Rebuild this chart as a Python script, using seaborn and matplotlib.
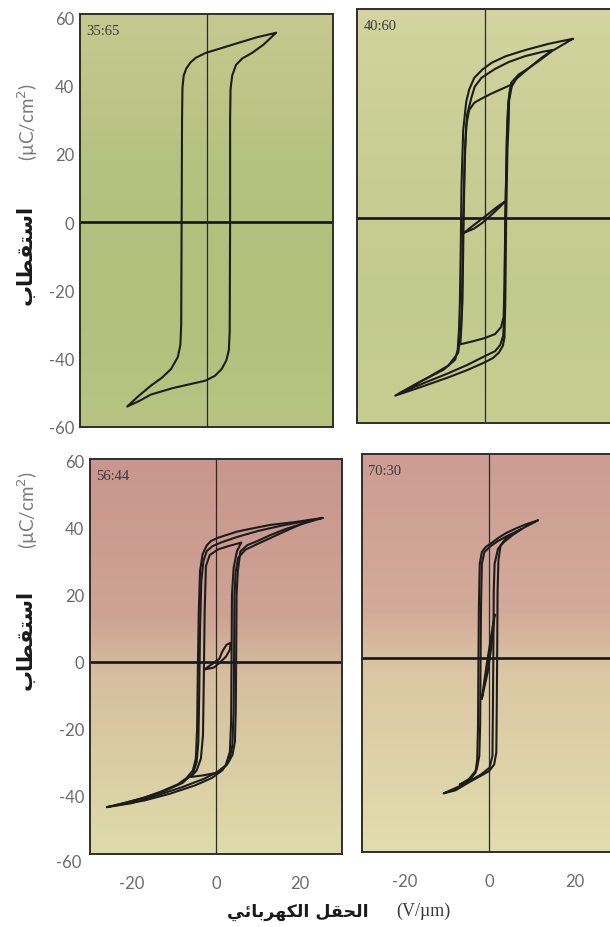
import numpy as np
import pandas as pd
import matplotlib
matplotlib.use("Agg")
import matplotlib.pyplot as plt
import seaborn as sns
from matplotlib import transforms

# ------------------------------------------------------------------ data
panel_labels = ["35:65", "40:60", "56:44", "70:30"]
x_ticks = [-20, 0, 20]
y_ticks = [-60, -40, -20, 0, 20, 40, 60]

y_label_ar = "استقطاب"
y_label_unit = "(µC/cm$^{2}$)"
x_label_ar = "الحقل الكهربائي"
x_label_unit = "(V/µm)"

# 35:65 main loop (upper branch then lower branch)
p1_a_E = [16.5, 12, 7.7, 3, -0.2, -2.5, -3.8, -4.8, -5.4, -5.7, -5.8, -5.9, -6.0, -6.2, -6.8, -8.4, -10.5, -13.2, -16, -18.8,
          -16, -13.2, -8, -3, -0.2, 2, 3.6, 4.7, 5.3, 5.5, 5.6, 5.6, 5.7, 6.1, 7, 8.5, 10.8, 13.5, 16.5]
p1_a_P = [55.5, 54.2, 52.6, 50.8, 49.6, 48.2, 46.8, 45, 43, 39.5, 30, 0, -30, -36, -39.5, -43, -45.5, -47.9, -50.8, -54,
          -52.4, -50.5, -48.6, -47.2, -46.4, -45, -43, -40.5, -37.5, -32, 0, 30, 39, 43, 46.1, 48, 49.6, 52, 55.5]

# 40:60 loops
p2_a_E = [20.8, 15, 9.6, 5, 1.7, -0.5, -2.4, -3.6, -4.3, -5, -5.4, -5.6, -5.8, -6, -6.3, -6.9, -9.6, -15.1, -21,
          -15, -8.6, -4, 0, 2, 3.4, 4.3, 4.7, 4.9, 5.1, 5.4, 5.7, 5.8, 6.3, 8, 10.5, 13, 16, 20.8]
p2_a_P = [52.3, 50.8, 49, 47.2, 45.3, 43.3, 40.9, 37.5, 33.9, 25.7, 10, -10, -25, -32.7, -38.5, -41.5, -44.4, -47.9, -52,
          -49.5, -46.7, -44.5, -42.3, -41, -39.4, -37.5, -35, -24, 0, 20, 28.6, 36, 39.5, 41.8, 43.8, 46, 48.8, 52.3]
p2_b_E = [16, 13.7, 9.5, 5.7, 2.5, -0.7, -2.3, -3.1, -4.1, -4.6, -4.9, -5.2, -5.6, -6.2, -8.5, -13, -20,
          -14, -8.6, -4, 0, 2.5, 3.7, 4.4, 4.7, 4.9, 5.3, 5.6, 6.2, 7.5, 10.5, 13.5, 16]
p2_b_P = [49, 48.5, 47.2, 45.5, 43.5, 40.9, 38.3, 35, 30, 20, 0, -25, -34, -39.5, -43.2, -46.5, -51.3,
          -48.2, -45.5, -43, -40.5, -39, -37.2, -34.5, -28, 0, 25, 34, 38, 40.6, 43.8, 46.8, 49]
p2_c_E = [6.5, 4, 1.5, -1, -2.4, -3.6, -4.3, -4.7, -5.0, -5.3, -5.5, -5.7,
          -3, 0, 2.5, 3.9, 4.5, 4.7, 4.9, 5.3, 5.6, 6.5]
p2_c_P = [39, 37.6, 36.2, 34.6, 33.6, 31.5, 27, 15, 0, -25, -33, -37,
          -36.2, -35.2, -34, -32, -29, -20, 0, 25, 33, 39]
p2_d_E = [-4.8, -3, -1, 1, 3, 4.8, 3.5, 1.5, -0.5, -2.5, -4.8]
p2_d_P = [-4.4, -2.6, -0.7, 1.2, 3.2, 4.7, 3.0, 0.7, -1.5, -3.2, -4.4]

# 56:44 loops
p3_a_E = [25.4, 19, 12.9, 8, 5, 2, 0.3, -1.2, -2.2, -3.2, -3.8, -4.1, -4.3, -4.5, -4.8, -5.5, -7, -9.1, -13, -16.9, -21, -26,
          -20, -14.6, -8, -2.8, 0.3, 2.5, 3.9, 4.5, 4.7, 4.8, 4.9, 5.2, 5.8, 7.5, 9.7, 13, 16.8, 21, 25.4]
p3_a_P = [42.9, 41.7, 40.8, 39.6, 38.8, 37.6, 36.9, 36, 34.7, 32, 27, 15, 0, -20, -29, -32.5, -34.8, -36.7, -38.8, -40.6, -42, -43.5,
          -42.3, -40.2, -37.5, -35, -33, -31, -28, -24, -15, 0, 20, 27, 32.9, 34.8, 35.9, 37.8, 39.7, 41.3, 42.9]
p3_b_E = [22.5, 16, 10, 5, 1.5, -0.8, -2.2, -3, -3.5, -3.8, -4, -4.2, -4.6, -5.5, -8, -12.5, -18, -24,
          -17, -11, -5, -1, 1.5, 3.2, 3.9, 4.2, 4.3, 4.4, 4.7, 5.3, 7, 10, 14, 18, 22.5]
p3_b_P = [42.2, 40.7, 39, 37.2, 35.7, 34.5, 33, 30, 24, 10, -10, -24, -30, -33.5, -36.3, -38.8, -41, -43,
          -41.5, -39.5, -37, -34.8, -32.5, -29.5, -25, -15, 0, 20, 27, 31, 33.4, 35.2, 37.5, 39.8, 42.2]
p3_c_E = [6, 3, 0.5, -1.5, -2.4, -2.7, -2.9, -3.1, -3.6, -4.6, -6,
          -3, 0.3, 2.3, 3.3, 3.6, 3.7, 3.8, 4.2, 5, 6]
p3_c_P = [35.5, 34.5, 33.5, 31.8, 28.5, 15, -5, -22, -29, -32.5, -34.5,
          -34, -33.2, -31, -27, -18, 0, 20, 28, 33, 35.5]
p3_d_E = [-2.8, -1, 0.8, 1.5, 2.5, 3.5, 3.3, 2.4, 1, -0.5, -2.8]
p3_d_P = [-2.4, -0.8, 0.8, 3, 5, 5.6, 3.5, 1.5, -0.2, -1.8, -2.4]

# 70:30 loops
p4_a_E = [11.4, 8.5, 6.2, 4, 2.3, 0.6, -0.9, -1.8, -2.3, -2.5, -2.6, -2.7, -2.9, -3.3, -4.6, -6.4, -8.5, -10.8,
          -8, -4.8, -2.2, -0.1, 1.1, 1.6, 1.7, 1.8, 1.9, 2.1, 2.6, 4, 6.2, 8.8, 11.4]
p4_a_P = [40.9, 39.7, 38.5, 37.2, 35.9, 34.3, 33, 31.5, 28, 15, 0, -20, -30, -34, -36, -37.6, -38.8, -40.1,
          -39.2, -36.8, -35, -33.5, -31.5, -28, -15, 0, 20, 29, 33.5, 35.8, 37.4, 39.2, 40.9]
p4_b_E = [7.5, 4.5, 2, 0.2, -1.2, -1.8, -2.0, -2.1, -2.2, -2.4, -3, -4.8, -7,
          -4.5, -2, 0, 0.7, 0.8, 0.9, 1.0, 1.2, 2, 3.5, 5.5, 7.5]
p4_b_P = [38.3, 36.5, 34.8, 33.2, 31.5, 28, 15, 0, -20, -29, -33, -35.8, -37.5,
          -36.3, -34.5, -32.5, -29, -15, 0, 20, 28, 32.5, 34.6, 36.6, 38.3]
p4_c_E = [-1.8, -0.8, 0.2, 1.2, 0.5, -0.4, -1.8]
p4_c_P = [-12, -3, 5, 13, 4, -4, -12]

# ------------------------------------------------------------------ helpers
FORMS = {
    'ا': ('\uFE8D', '\uFE8E', None, None),
    'ب': ('\uFE8F', '\uFE90', '\uFE91', '\uFE92'),
    'ت': ('\uFE95', '\uFE96', '\uFE97', '\uFE98'),
    'س': ('\uFEB1', '\uFEB2', '\uFEB3', '\uFEB4'),
    'ط': ('\uFEC1', '\uFEC2', '\uFEC3', '\uFEC4'),
    'ق': ('\uFED5', '\uFED6', '\uFED7', '\uFED8'),
    'ك': ('\uFED9', '\uFEDA', '\uFEDB', '\uFEDC'),
    'ل': ('\uFEDD', '\uFEDE', '\uFEDF', '\uFEE0'),
    'ح': ('\uFEA1', '\uFEA2', '\uFEA3', '\uFEA4'),
    'ه': ('\uFEE9', '\uFEEA', '\uFEEB', '\uFEEC'),
    'ر': ('\uFEAD', '\uFEAE', None, None),
    'ئ': ('\uFE89', '\uFE8A', '\uFE8B', '\uFE8C'),
    'ي': ('\uFEF1', '\uFEF2', '\uFEF3', '\uFEF4'),
}


def shape_ar(text):
    out = []
    n = len(text)
    for i, ch in enumerate(text):
        if ch not in FORMS:
            out.append(ch)
            continue
        f = FORMS[ch]
        prev_j = i > 0 and text[i - 1] in FORMS and FORMS[text[i - 1]][2] is not None
        next_j = i < n - 1 and text[i + 1] in FORMS and f[2] is not None
        if prev_j and next_j:
            out.append(f[3])
        elif prev_j:
            out.append(f[1])
        elif next_j:
            out.append(f[2])
        else:
            out.append(f[0])
    return "".join(out)[::-1]


panels = {
    "35:65": [(p1_a_E, p1_a_P)],
    "40:60": [(p2_a_E, p2_a_P), (p2_b_E, p2_b_P), (p2_c_E, p2_c_P), (p2_d_E, p2_d_P)],
    "56:44": [(p3_a_E, p3_a_P), (p3_b_E, p3_b_P), (p3_c_E, p3_c_P), (p3_d_E, p3_d_P)],
    "70:30": [(p4_a_E, p4_a_P), (p4_b_E, p4_b_P), (p4_c_E, p4_c_P)],
}

rows = []
for lab, loops in panels.items():
    for li, (E, P) in enumerate(loops):
        for k, (e, p) in enumerate(zip(E, P)):
            rows.append({"panel": lab, "loop": li, "k": k, "E": e, "P": p})
df = pd.DataFrame(rows)

# ------------------------------------------------------------------ style
sns.set_theme(style="white")
plt.rcParams['font.family'] = ['Lato', 'DejaVu Sans']
plt.rcParams['axes.unicode_minus'] = False

W, H = 610, 928
fig = plt.figure(figsize=(W / 100, H / 100), dpi=100)
fig.patch.set_facecolor("white")

# axes boxes in pixels: left, right, top, bottom
boxes = {
    "35:65": (80, 333, 15, 428),
    "40:60": (357, 612, 10, 424),
    "56:44": (90, 342, 460, 855),
    "70:30": (362, 617, 455, 853),
}
ylims = {"35:65": (-60, 61), "40:60": (-60, 61), "56:44": (-57.5, 60.5), "70:30": (-57.5, 60.6)}

grads = {
    "35:65": [(0.0, "#c6c990"), (0.35, "#b6c27f"), (0.7, "#b2c07c"), (1.0, "#b9c483")],
    "40:60": [(0.0, "#d3d49f"), (0.35, "#c8ce94"), (0.7, "#c2cb8e"), (1.0, "#c6ce92")],
    "56:44": [(0.0, "#c8968d"), (0.4, "#cea394"), (0.55, "#d6bf9f"), (1.0, "#dedca9")],
    "70:30": [(0.0, "#cd9c93"), (0.4, "#d3ab9a"), (0.55, "#dbc7a3"), (1.0, "#e2ddae")],
}


def gradient_img(stops, n=256):
    from matplotlib.colors import to_rgb
    pos = np.array([s[0] for s in stops])
    cols = np.array([to_rgb(s[1]) for s in stops])
    t = np.linspace(0, 1, n)
    img = np.stack([np.interp(t, pos, cols[:, c]) for c in range(3)], axis=-1)
    return img[:, None, :]


tick_col = "#6b6b6b"
for idx, lab in enumerate(panel_labels):
    l, r, t, b = boxes[lab]
    ax = fig.add_axes([l / W, 1 - b / H, (r - l) / W, (b - t) / H])
    ax.imshow(gradient_img(grads[lab]), extent=[0, 1, 0, 1], transform=ax.transAxes,
              aspect="auto", zorder=0, interpolation="bilinear")
    ax.axhline(0, color="#151515", lw=1.9, zorder=2)
    ax.axvline(0, color="#2a2a2a", lw=0.9, zorder=2)
    sub = df[df.panel == lab]
    sns.lineplot(data=sub, x="E", y="P", units="loop", estimator=None, sort=False,
                 color="#1c1c1c", linewidth=1.5, ax=ax, legend=False, zorder=3)
    ax.set_xlim(-30, 30)
    ax.set_ylim(*ylims[lab])
    ax.set_xticks(x_ticks)
    ax.set_yticks([v for v in y_ticks if ylims[lab][0] <= v <= ylims[lab][1]])
    ax.set_xlabel("")
    ax.set_ylabel("")
    ax.tick_params(direction="in", length=9, width=1.1, color="#333333",
                   labelsize=12, labelcolor=tick_col)
    ax.tick_params(axis="x", pad=15)
    ax.tick_params(axis="y", pad=4)
    for s in ax.spines.values():
        s.set_color("#2e2e2e")
        s.set_linewidth(1.4)
        s.set_visible(True)
    if idx in (1, 3):
        ax.tick_params(axis="y", labelleft=False)
    if idx in (0, 1):
        ax.tick_params(axis="x", labelbottom=False)
    if idx == 2:
        tr = transforms.blended_transform_factory(ax.transAxes, ax.transData)
        ax.text(-0.035, -60, "-60", transform=tr, ha="right", va="center",
                fontsize=12, color=tick_col, clip_on=False)
    ax.text(0.025, 0.975, lab, transform=ax.transAxes, ha="left", va="top",
            fontsize=10.5, color="#3a3a3a", family=["Liberation Serif", "DejaVu Serif"], zorder=4)

# axis labels
for (yc_ar, yc_unit) in [(255, 122), (640, 510)]:
    fig.text(26 / W, 1 - yc_ar / H, shape_ar(y_label_ar), rotation=90, ha="center", va="center",
             fontsize=15, fontweight="bold", color="#1a1a1a", family=["DejaVu Sans"])
    fig.text(28 / W, 1 - yc_unit / H, y_label_unit, rotation=90, ha="center", va="center",
             fontsize=13.5, color="#7a7a7a")

fig.text(298 / W, 1 - 912 / H, shape_ar(x_label_ar), ha="center", va="center",
         fontsize=12.5, fontweight="bold", color="#1a1a1a", family=["DejaVu Sans"])
fig.text(423 / W, 1 - 911 / H, x_label_unit, ha="center", va="center",
         fontsize=13, color="#3a3a3a", family=["Liberation Serif", "DejaVu Serif"])

fig.savefig("out.png", dpi=100, facecolor="white")
